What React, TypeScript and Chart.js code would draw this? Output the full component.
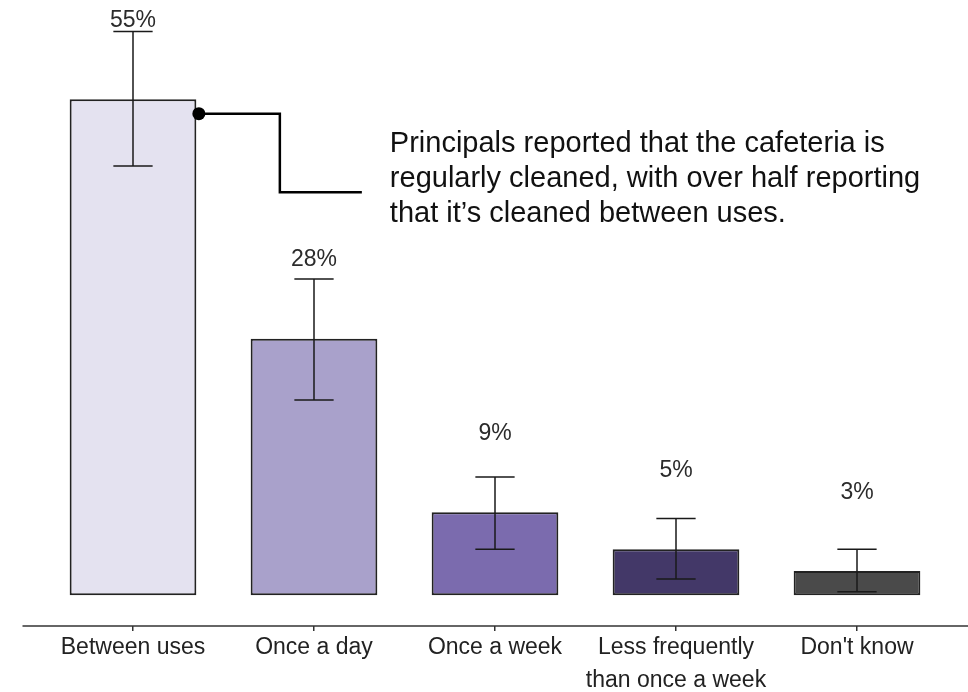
import React, { useEffect, useRef } from "react";
import { Chart, registerables } from "chart.js";

Chart.register(...registerables);

const categories: (string | string[])[] = [
  "Between uses",
  "Once a day",
  "Once a week",
  ["Less frequently", "than once a week"],
  "Don't know",
];
const values = [54.9, 28.4, 9.2, 5.1, 2.7];
const errLow = [47.5, 21.6, 5.1, 1.8, 0.4];
const errHigh = [62.4, 35.0, 13.1, 8.5, 5.1];
const valueLabels = ["55%", "28%", "9%", "5%", "3%"];
const barColors = ["#E4E2F0", "#A9A1CB", "#7B6BAE", "#433868", "#4A4A4A"];
const annotationLines = [
  "Principals reported that the cafeteria is",
  "regularly cleaned, with over half reporting",
  "that it\u2019s cleaned between uses.",
];
const annotationAnchorValue = 53.3;
const annotationDropValue = 44.6;

const FONT = '"Liberation Sans", Arial, sans-serif';

const overlayPlugin = {
  id: "overlay",
  afterDatasetsDraw(chart: any) {
    const { ctx, scales } = chart;
    const x = scales.x;
    const y = scales.y;
    const meta = chart.getDatasetMeta(0);
    ctx.save();

    // error bars
    ctx.strokeStyle = "#1a1a1a";
    ctx.lineWidth = 1.5;
    meta.data.forEach((bar: any, i: number) => {
      const cx = bar.x;
      const yh = y.getPixelForValue(errHigh[i]);
      const yl = y.getPixelForValue(errLow[i]);
      const hw = bar.width * 0.155;
      ctx.beginPath();
      ctx.moveTo(cx, yh);
      ctx.lineTo(cx, yl);
      ctx.moveTo(cx - hw, yh);
      ctx.lineTo(cx + hw, yh);
      ctx.moveTo(cx - hw, yl);
      ctx.lineTo(cx + hw, yl);
      ctx.stroke();
    });

    // value labels
    ctx.fillStyle = "#2b2b2b";
    ctx.font = `23px ${FONT}`;
    ctx.textAlign = "center";
    ctx.textBaseline = "middle";
    meta.data.forEach((bar: any, i: number) => {
      ctx.fillText(valueLabels[i], bar.x, y.getPixelForValue(values[i] + 8.7));
    });

    // x axis line (extends beyond plot area)
    ctx.strokeStyle = "#333";
    ctx.lineWidth = 1.5;
    ctx.beginPath();
    ctx.moveTo(x.left - 20, chart.chartArea.bottom);
    ctx.lineTo(chart.width, chart.chartArea.bottom);
    ctx.stroke();

    // annotation connector
    const b0 = meta.data[0];
    const right = b0.x + b0.width / 2;
    const ay = y.getPixelForValue(annotationAnchorValue);
    const dy = y.getPixelForValue(annotationDropValue);
    ctx.strokeStyle = "#000";
    ctx.lineWidth = 2.5;
    ctx.beginPath();
    ctx.moveTo(right + 2.5, ay);
    ctx.lineTo(right + 83.5, ay);
    ctx.lineTo(right + 83.5, dy);
    ctx.lineTo(right + 165.5, dy);
    ctx.stroke();
    ctx.fillStyle = "#000";
    ctx.beginPath();
    ctx.arc(right + 2.5, ay, 6.5, 0, Math.PI * 2);
    ctx.fill();

    // annotation text
    ctx.fillStyle = "#111";
    ctx.font = `29px ${FONT}`;
    ctx.textAlign = "left";
    ctx.textBaseline = "alphabetic";
    annotationLines.forEach((line, i) => {
      ctx.fillText(line, right + 193.5, 152 + i * 35);
    });

    ctx.restore();
  },
};

export default function App() {
  const canvasRef = useRef<HTMLCanvasElement | null>(null);

  useEffect(() => {
    if (!canvasRef.current) return;
    const chart = new Chart(canvasRef.current, {
      type: "bar",
      data: {
        labels: categories as any,
        datasets: [
          {
            data: values,
            backgroundColor: barColors,
            borderColor: "#222",
            borderWidth: 2,
            borderSkipped: false,
            barPercentage: 0.7,
            categoryPercentage: 1,
          },
        ],
      },
      options: {
        responsive: false,
        animation: false,
        layout: { padding: { left: 42.5, right: 20.5, top: 8, bottom: 0 } },
        plugins: {
          legend: { display: false },
          tooltip: { enabled: false },
        },
        scales: {
          x: {
            offset: true,
            border: { display: false },
            grid: {
              display: true,
              offset: false,
              drawOnChartArea: false,
              drawTicks: true,
              tickLength: 5,
              color: "#333",
              lineWidth: 1.5,
            },
            ticks: {
              color: "#222",
              padding: 0,
              maxRotation: 0,
              autoSkip: false,
              font: { family: FONT, size: 23, lineHeight: 1.45 },
            },
            afterFit: (scale: any) => {
              scale.height = 66;
            },
          },
          y: {
            display: false,
            min: -3.4,
            max: 65,
          },
        },
      },
      plugins: [overlayPlugin],
    });
    return () => chart.destroy();
  }, []);

  return (
    <div style={{ position: "fixed", left: 0, top: 0, width: 968, height: 692, background: "#fff" }}>
      <canvas ref={canvasRef} width={968} height={692} style={{ display: "block" }} />
    </div>
  );
}
